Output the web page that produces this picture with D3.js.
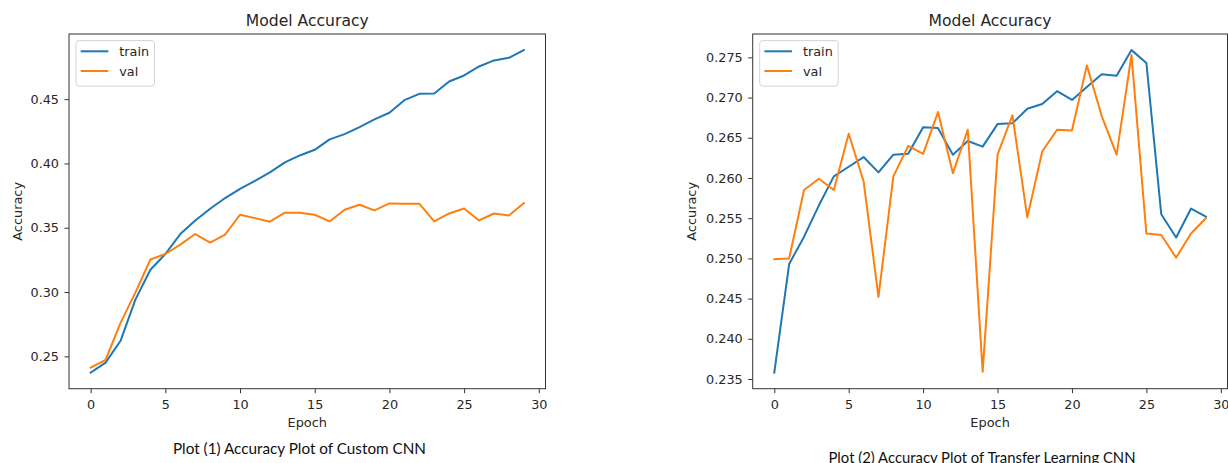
<!DOCTYPE html>
<html>
<head>
<meta charset="utf-8">
<script src="https://cdn.jsdelivr.net/npm/d3@7/dist/d3.min.js"></script>
<style>
  html, body { margin: 0; padding: 0; background: #fff; }
  svg { display: block; }
  .tick-label { font-family: "DejaVu Sans", sans-serif; font-size: 12.8px; fill: #262626; }
  .axis-title { font-family: "DejaVu Sans", sans-serif; font-size: 12.9px; fill: #262626; }
  .plot-title { font-family: "DejaVu Sans", sans-serif; font-size: 15.6px; fill: #262626; }
  .legend-label { font-family: "DejaVu Sans", sans-serif; font-size: 12.8px; fill: #262626; }
  .caption { font-family: Lato, "Open Sans", sans-serif; font-size: 16px; fill: #111; }
</style>
</head>
<body>
<svg id="chart" width="1228" height="463"></svg>
<script>
// ---- data ----
const epochs = d3.range(30);

const customTrain = [
  0.2374, 0.2451, 0.2621, 0.2943, 0.3173, 0.3296, 0.3451, 0.3557, 0.3648, 0.3731,
  0.3803, 0.3865, 0.3930, 0.4008, 0.4062, 0.4106, 0.4187, 0.4228, 0.4282, 0.4342,
  0.4394, 0.4492, 0.4541, 0.4544, 0.4637, 0.4684, 0.4754, 0.4801, 0.4821, 0.4881
];
const customVal = [
  0.2412, 0.2472, 0.2760, 0.2998, 0.3253, 0.3296, 0.3369, 0.3451, 0.3384, 0.3446,
  0.3601, 0.3575, 0.3547, 0.3617, 0.3617, 0.3601, 0.3549, 0.3640, 0.3679, 0.3635,
  0.3689, 0.3687, 0.3687, 0.3549, 0.3611, 0.3650, 0.3557, 0.3611, 0.3596, 0.3692
];

const transferTrain = [
  0.2358, 0.2493, 0.2527, 0.2566, 0.2602, 0.2614, 0.2626, 0.2607, 0.2629, 0.2630,
  0.2663, 0.2662, 0.2629, 0.2646, 0.2639, 0.2667, 0.2668, 0.2686, 0.2692, 0.2708,
  0.2697, 0.2713, 0.2729, 0.2727, 0.2759, 0.2743, 0.2555, 0.2526, 0.2562, 0.2552
];
const transferVal = [
  0.2499, 0.2500, 0.2585, 0.2599, 0.2585, 0.2655, 0.2596, 0.2452, 0.2602, 0.2640,
  0.2630, 0.2682, 0.2606, 0.2660, 0.2359, 0.2629, 0.2678, 0.2551, 0.2633, 0.2660,
  0.2659, 0.2740, 0.2677, 0.2629, 0.2753, 0.2531, 0.2529, 0.2501, 0.2531, 0.2550
];

const xTicks = [0, 5, 10, 15, 20, 25, 30];
const customYTicks = [0.25, 0.30, 0.35, 0.40, 0.45];
const transferYTicks = [0.235, 0.240, 0.245, 0.250, 0.255, 0.260, 0.265, 0.270, 0.275];

const seriesNames = ["train", "val"];
const colors = ["#1f77b4", "#ff7f0e"];

const captions = [
  "Plot (1) Accuracy Plot of Custom CNN",
  "Plot (2) Accuracy Plot of Transfer Learning CNN"
];

const svg = d3.select("#chart");
svg.append("rect").attr("width", 1228).attr("height", 463).attr("fill", "#fff");

// matplotlib-like 5% padding
const padded = (lo, hi) => {
  const m = (hi - lo) * 0.05;
  return [lo - m, hi + m];
};

function drawPanel(opts) {
  const { left, right, top, bottom, train, val, yTicks, yFmt, ylabelX } = opts;

  const x = d3.scaleLinear()
    .domain(padded(0, epochs.length - 1))
    .range([left, right]);

  const allVals = train.concat(val);
  const y = d3.scaleLinear()
    .domain(padded(d3.min(allVals), d3.max(allVals)))
    .range([bottom, top]);

  const g = svg.append("g");

  // x axis
  const xAxis = g.append("g")
    .attr("transform", `translate(0,${bottom})`)
    .call(d3.axisBottom(x).tickValues(xTicks).tickSize(4.5).tickPadding(7).tickFormat(d3.format("d")));
  xAxis.select(".domain").remove();
  xAxis.selectAll(".tick line").attr("stroke", "#333").attr("stroke-width", 1);
  xAxis.selectAll(".tick text").attr("class", "tick-label").attr("font-size", null).attr("font-family", null).attr("fill", null);

  // y axis
  const yAxis = g.append("g")
    .attr("transform", `translate(${left},0)`)
    .call(d3.axisLeft(y).tickValues(yTicks).tickSize(4.5).tickPadding(5.5).tickFormat(d3.format(yFmt)));
  yAxis.select(".domain").remove();
  yAxis.selectAll(".tick line").attr("stroke", "#333").attr("stroke-width", 1);
  yAxis.selectAll(".tick text").attr("class", "tick-label").attr("font-size", null).attr("font-family", null).attr("fill", null);

  // lines
  const clipId = "clip" + Math.round(left);
  svg.append("clipPath").attr("id", clipId)
    .append("rect").attr("x", left).attr("y", top).attr("width", right - left).attr("height", bottom - top);

  const line = d3.line().x((d, i) => x(epochs[i])).y((d) => y(d));
  [train, val].forEach((s, k) => {
    g.append("path")
      .datum(s)
      .attr("clip-path", `url(#${clipId})`)
      .attr("fill", "none")
      .attr("stroke", colors[k])
      .attr("stroke-width", 2)
      .attr("stroke-linejoin", "round")
      .attr("stroke-linecap", "square")
      .attr("d", line);
  });

  // frame
  g.append("rect")
    .attr("x", left).attr("y", top)
    .attr("width", right - left).attr("height", bottom - top)
    .attr("fill", "none").attr("stroke", "#333").attr("stroke-width", 1);

  // title and axis labels
  g.append("text").attr("class", "plot-title")
    .attr("x", (left + right) / 2).attr("y", 25.5)
    .attr("text-anchor", "middle").text("Model Accuracy");

  g.append("text").attr("class", "axis-title")
    .attr("x", (left + right) / 2).attr("y", 426.5)
    .attr("text-anchor", "middle").text("Epoch");

  g.append("text").attr("class", "axis-title")
    .attr("transform", `translate(${ylabelX},${(top + bottom) / 2}) rotate(-90)`)
    .attr("text-anchor", "middle").text("Accuracy");

  // legend
  const lg = g.append("g").attr("transform", `translate(${left + 7},${top + 6.6})`);
  lg.append("rect")
    .attr("width", 78.5).attr("height", 45.5).attr("rx", 3)
    .attr("fill", "#fff").attr("stroke", "#d4d4d4").attr("stroke-width", 1);
  seriesNames.forEach((name, k) => {
    const ly = 10.7 + k * 19.7;
    lg.append("line")
      .attr("x1", 4.7).attr("x2", 32.3).attr("y1", ly).attr("y2", ly)
      .attr("stroke", colors[k]).attr("stroke-width", 2);
    lg.append("text").attr("class", "legend-label")
      .attr("x", 43.3).attr("y", ly + 4.6).text(name);
  });

  // caption
  g.append("text").attr("class", "caption")
    .attr("x", opts.captionX).attr("y", opts.captionY)
    .attr("text-anchor", "middle")
    .attr("textLength", opts.captionW).attr("lengthAdjust", "spacingAndGlyphs")
    .text(opts.caption);
}

drawPanel({
  left: 69, right: 545.5, top: 34, bottom: 388.7,
  train: customTrain, val: customVal,
  yTicks: customYTicks, yFmt: ".2f", ylabelX: 21.5,
  caption: captions[0], captionX: 299.5, captionY: 453.5, captionW: 253
});

drawPanel({
  left: 752.7, right: 1227.5, top: 34, bottom: 388.7,
  train: transferTrain, val: transferVal,
  yTicks: transferYTicks, yFmt: ".3f", ylabelX: 696,
  caption: captions[1], captionX: 982, captionY: 462.5, captionW: 307
});
</script>
</body>
</html>
